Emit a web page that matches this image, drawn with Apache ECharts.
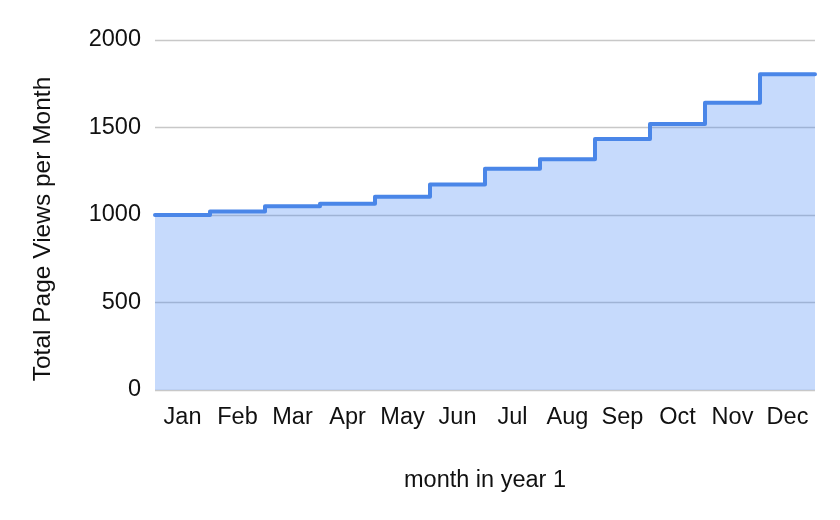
<!DOCTYPE html>
<html>
<head>
<meta charset="utf-8">
<script src="https://cdn.jsdelivr.net/npm/echarts@6/dist/echarts.min.js"></script>
<style>
  html, body { margin: 0; padding: 0; background: #fff; }
  #chart { width: 840px; height: 520px; }
</style>
</head>
<body>
<div id="chart"></div>
<script>
const months = ['Jan', 'Feb', 'Mar', 'Apr', 'May', 'Jun', 'Jul', 'Aug', 'Sep', 'Oct', 'Nov', 'Dec'];
const pageViews = [1000, 1020, 1050, 1065, 1105, 1175, 1265, 1318, 1434, 1520, 1642, 1804];
const yTicks = [0, 500, 1000, 1500, 2000];

// each month fills its whole band: step from band edge to band edge
const stepData = pageViews.map((v, i) => [i, v]);
stepData.push([months.length, pageViews[pageViews.length - 1]]);

const chart = echarts.init(document.getElementById('chart'), null, { renderer: 'canvas' });
const font = 'Liberation Sans, Arial, sans-serif';
const ink = '#111';

chart.setOption({
  animation: false,
  grid: { left: 155, right: 25, top: 40, bottom: 130 },
  xAxis: [
    {
      type: 'value', min: 0, max: months.length, show: false
    },
    {
      type: 'category', data: months, boundaryGap: true, position: 'bottom',
      name: 'month in year 1', nameLocation: 'middle', nameGap: 79,
      nameTextStyle: { fontFamily: font, fontSize: 23.5, color: ink },
      axisLine: { show: false }, axisTick: { show: false },
      axisLabel: { fontFamily: font, fontSize: 23.5, color: ink, margin: 16, interval: 0 }
    }
  ],
  yAxis: {
    type: 'value', min: yTicks[0], max: yTicks[yTicks.length - 1], interval: 500,
    name: 'Total Page Views per Month', nameLocation: 'middle', nameGap: 99,
    nameTextStyle: { fontFamily: font, fontSize: 24.5, color: ink, padding: [0, 28, 0, 0] },
    axisLine: { show: false }, axisTick: { show: false },
    axisLabel: { fontFamily: font, fontSize: 23.5, color: ink, margin: 14, formatter: v => String(v) },
    splitLine: { lineStyle: { color: '#c8c8c8', width: 1.3 } }
  },
  series: [{
    type: 'line',
    xAxisIndex: 0,
    data: stepData,
    step: 'end',
    symbol: 'none',
    lineStyle: { color: '#4a86e8', width: 4, join: 'round', cap: 'round' },
    areaStyle: { color: '#4285f4', opacity: 0.3 }
  }]
});
</script>
</body>
</html>
